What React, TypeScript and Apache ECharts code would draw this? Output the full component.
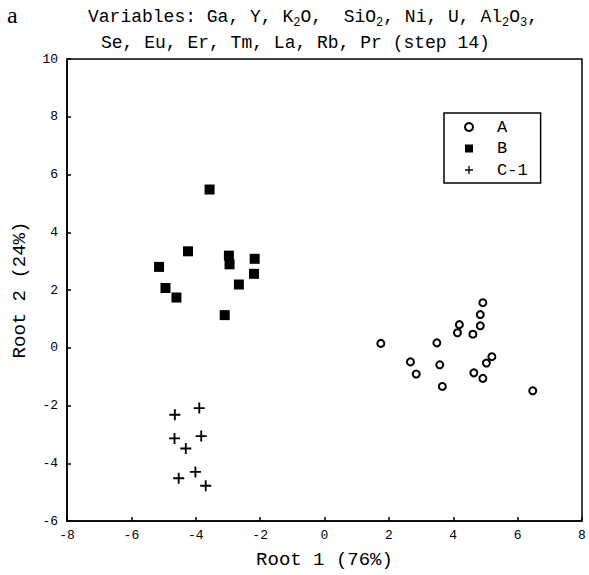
import React, { useEffect, useRef } from "react";
import * as echarts from "echarts";

const groupA: [number, number][] = [
  [4.92, 1.56], [4.84, 1.15], [4.19, 0.8], [4.84, 0.76], [4.13, 0.52],
  [4.61, 0.47], [1.75, 0.15], [3.49, 0.17], [5.2, -0.31], [5.03, -0.53],
  [2.67, -0.49], [3.58, -0.59], [2.85, -0.91], [4.64, -0.87], [4.92, -1.06],
  [3.66, -1.34], [6.47, -1.49],
];
const groupB: [number, number][] = [
  [-3.57, 5.48], [-4.24, 3.34], [-2.97, 3.19], [-2.95, 2.89], [-2.17, 3.08],
  [-5.14, 2.8], [-2.19, 2.56], [-2.66, 2.19], [-4.94, 2.07], [-4.6, 1.74],
  [-3.1, 1.13],
];
const groupC1: [number, number][] = [
  [-4.65, -2.32], [-3.89, -2.09], [-4.66, -3.14], [-3.83, -3.06], [-4.31, -3.49],
  [-4.01, -4.3], [-4.53, -4.52], [-3.69, -4.78],
];
const seriesNames = ["A", "B", "C-1"];
const xName = "Root 1 (76%)";
const yName = "Root 2 (24%)";
const panelLabel = "a";
const titleLine1 = "Variables: Ga, Y, K{s|2}O,  SiO{s|2}, Ni, U, Al{s|2}O{s|3},";
const titleLine2 = "Se, Eu, Er, Tm, La, Rb, Pr (step 14)";

const MONO = "'Liberation Mono', 'DejaVu Sans Mono', monospace";
const CROSS =
  "path://M5,0 L7,0 L7,5 L12,5 L12,7 L7,7 L7,12 L5,12 L5,7 L0,7 L0,5 L5,5 Z";

export default function App() {
  const ref = useRef<HTMLDivElement>(null);
  useEffect(() => {
    if (!ref.current) return;
    const chart = echarts.init(ref.current, null, { renderer: "svg" });
    const axisCommon = {
      type: "value" as const,
      splitLine: { show: false },
      axisLine: { show: true, onZero: false, lineStyle: { color: "#000", width: 1.5 } },
      axisTick: { show: true, inside: true, length: 4, lineStyle: { color: "#000", width: 1.5 } },
      nameLocation: "middle" as const,
      nameTextStyle: { fontFamily: MONO, fontSize: 19, color: "#000" },
    };
    const titleStyle = {
      fontFamily: MONO,
      fontSize: 18,
      fontWeight: "normal",
      color: "#000",
      lineHeight: 24,
      rich: {
        s: { fontFamily: MONO, fontSize: 12, lineHeight: 12, verticalAlign: "bottom", color: "#000" },
      },
    };
    chart.setOption({
      animation: false,
      backgroundColor: "#fff",
      title: [
        {
          text: panelLabel,
          left: 7,
          top: 3,
          padding: 0,
          textStyle: { fontFamily: "'Liberation Serif', serif", fontSize: 24, fontWeight: "normal", color: "#000" },
        },
        { text: titleLine1, left: 88, top: 5, padding: 0, textStyle: titleStyle },
        { text: titleLine2, left: 101, top: 31, padding: 0, textStyle: titleStyle },
      ],
      grid: {
        left: 67,
        right: 7,
        top: 59,
        bottom: 54,
        show: true,
        borderColor: "#000",
        borderWidth: 1.5,
        backgroundColor: "transparent",
      },
      legend: {
        orient: "vertical",
        left: 444,
        top: 113,
        padding: [4, 13, 3, 20],
        itemGap: 1.5,
        itemWidth: 8,
        itemHeight: 8,
        borderColor: "#000",
        borderWidth: 1.5,
        data: seriesNames,
        textStyle: { fontFamily: MONO, fontSize: 17, color: "#000", lineHeight: 20, padding: [0, 0, 0, 19] },
      },
      xAxis: {
        ...axisCommon,
        min: -8,
        max: 8,
        interval: 2,
        name: xName,
        nameGap: 29,
        axisLabel: { margin: 8, color: "#000", fontFamily: MONO, fontSize: 13 },
      },
      yAxis: {
        ...axisCommon,
        min: -6,
        max: 10,
        interval: 2,
        name: yName,
        nameGap: 38,
        axisLabel: { margin: 9, color: "#000", fontFamily: MONO, fontSize: 13 },
      },
      series: [
        {
          name: seriesNames[0],
          type: "scatter",
          symbol: "circle",
          symbolSize: 7,
          itemStyle: { color: "#fff", borderColor: "#000", borderWidth: 2, opacity: 1 },
          data: groupA,
        },
        {
          name: seriesNames[1],
          type: "scatter",
          symbol: "rect",
          symbolSize: 10,
          itemStyle: { color: "#000", opacity: 1 },
          data: groupB,
        },
        {
          name: seriesNames[2],
          type: "scatter",
          symbol: CROSS,
          symbolSize: 11,
          itemStyle: { color: "#000", opacity: 1 },
          data: groupC1,
        },
      ],
    });
    return () => chart.dispose();
  }, []);
  return (
    <div
      ref={ref}
      style={{ position: "absolute", left: 0, top: 0, width: 589, height: 575 }}
    />
  );
}
